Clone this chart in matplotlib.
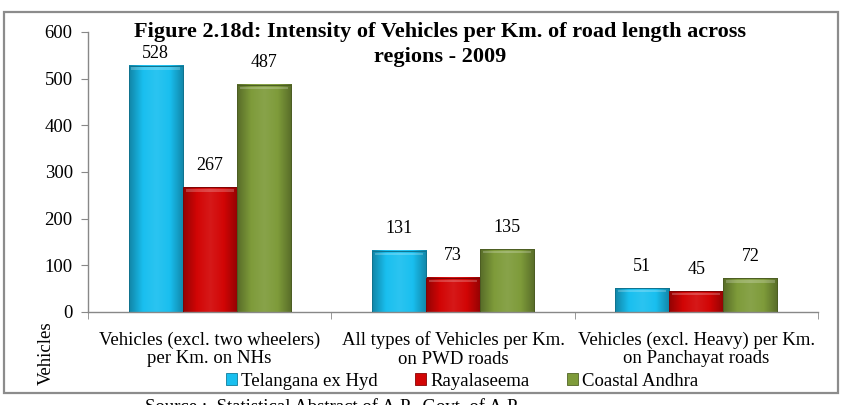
import matplotlib
matplotlib.use("Agg")
import matplotlib.pyplot as plt
import numpy as np
from matplotlib.patches import Rectangle
from matplotlib.colors import LinearSegmentedColormap, to_rgb

categories = ["Vehicles (excl. two wheelers)\nper Km. on NHs",
              "All types of Vehicles per Km.\non PWD roads",
              "Vehicles (excl. Heavy) per Km.\non Panchayat roads"]
series_names = ["Telangana ex Hyd", "Rayalaseema", "Coastal Andhra"]
telangana = [528, 131, 51]
rayalaseema = [267, 73, 45]
coastal = [487, 135, 72]
series = [telangana, rayalaseema, coastal]
colors = ["#19BFEF", "#D20505", "#7E9B3A"]
yticks = [0, 100, 200, 300, 400, 500, 600]
title_lines = ["Figure 2.18d: Intensity of Vehicles per Km. of road length across",
               "regions - 2009"]

plt.rcParams['font.family'] = ['Liberation Serif', 'DejaVu Serif']

W, H = 843, 405
fig = plt.figure(figsize=(W/100, H/100), dpi=100)
ax = fig.add_axes([88/W, (H-312)/H, (818-88)/W, (312-32)/H])

x = np.arange(len(categories))
bw = 0.667/3

def shade(c, f):
    r = np.array(to_rgb(c))
    if f >= 0:
        return tuple(r + (1-r)*f)
    return tuple(r*(1+f))

ax.set_xlim(-0.5, 2.5)
ax.set_ylim(0, 600)
label_cap = 555  # labels pushed below the title, as in the reference

for i, (vals, c) in enumerate(zip(series, colors)):
    bars = ax.bar(x + (i-1)*bw, vals, bw, color=c, edgecolor=shade(c, -0.35), linewidth=0.6,
                  label=series_names[i], zorder=2)
    cmap = LinearSegmentedColormap.from_list("g", [shade(c, -0.3), c, shade(c, 0.08), c, shade(c, -0.3)])
    for b, v in zip(bars, vals):
        grad = np.linspace(0, 1, 64).reshape(1, -1)
        x0, x1 = b.get_x(), b.get_x()+b.get_width()
        ax.imshow(grad, extent=[x0, x1, 0, v], aspect='auto',
                  cmap=cmap, zorder=2.5, interpolation='bicubic')
        ax.add_patch(Rectangle((x0 + 0.012, v - 9), x1 - x0 - 0.024, 5, facecolor='white',
                               alpha=0.22, edgecolor='none', zorder=2.7))
        ax.add_patch(Rectangle((x0, 0), x1 - x0, v, fill=False,
                               edgecolor=shade(c, -0.4), linewidth=0.7, zorder=3))
        ly = v + 47
        ax.text((x0+x1)/2, min(ly, label_cap), f"{v}", ha='center', va='center', fontsize=13, zorder=4)

ax.set_yticks(yticks)
ax.set_yticklabels([str(t) for t in yticks], fontsize=13.5)
ax.set_xticks(x)
ax.set_xticklabels(categories, fontsize=13.5, linespacing=1.12)
ax.tick_params(axis='x', length=0, pad=14)
ax.set_xticks([-0.5, 0.5, 1.5, 2.5], minor=True)
ax.tick_params(axis='x', which='minor', length=5, color='#888888', direction='out')
ax.tick_params(axis='y', length=5, color='#888888', direction='out', pad=6)
for s in ['top', 'right']:
    ax.spines[s].set_visible(False)
for s in ['left', 'bottom']:
    ax.spines[s].set_color('#888888')
    ax.spines[s].set_linewidth(1.0)

fig.text(440/W, (H-32)/H, title_lines[0], fontsize=16, fontweight='bold', ha='center', va='center')
fig.text(440/W, (H-57)/H, title_lines[1], fontsize=16, fontweight='bold', ha='center', va='center')

fig.text(46/W, (H-353)/H, "Vehicles", rotation=90, ha='center', va='center', fontsize=13.5)

leg = ax.legend(loc='center', bbox_to_anchor=(462/W, (H-381)/H), bbox_transform=fig.transFigure,
                ncol=3, frameon=False, fontsize=13.5, handlelength=0.6, handleheight=0.6,
                handletextpad=0.2, columnspacing=2.0, borderpad=0)

fig.patches.append(Rectangle((4/W, (H-393)/H), 834/W, 381/H, transform=fig.transFigure,
                             fill=False, edgecolor='#8C8C8C', linewidth=1.6))

fig.text(145/W, (H-399)/H, "Source :  Statistical Abstract of A.P., Govt. of A.P.", ha='left', va='top',
         fontsize=13.5, color='black')

fig.savefig("out.png", dpi=100)
